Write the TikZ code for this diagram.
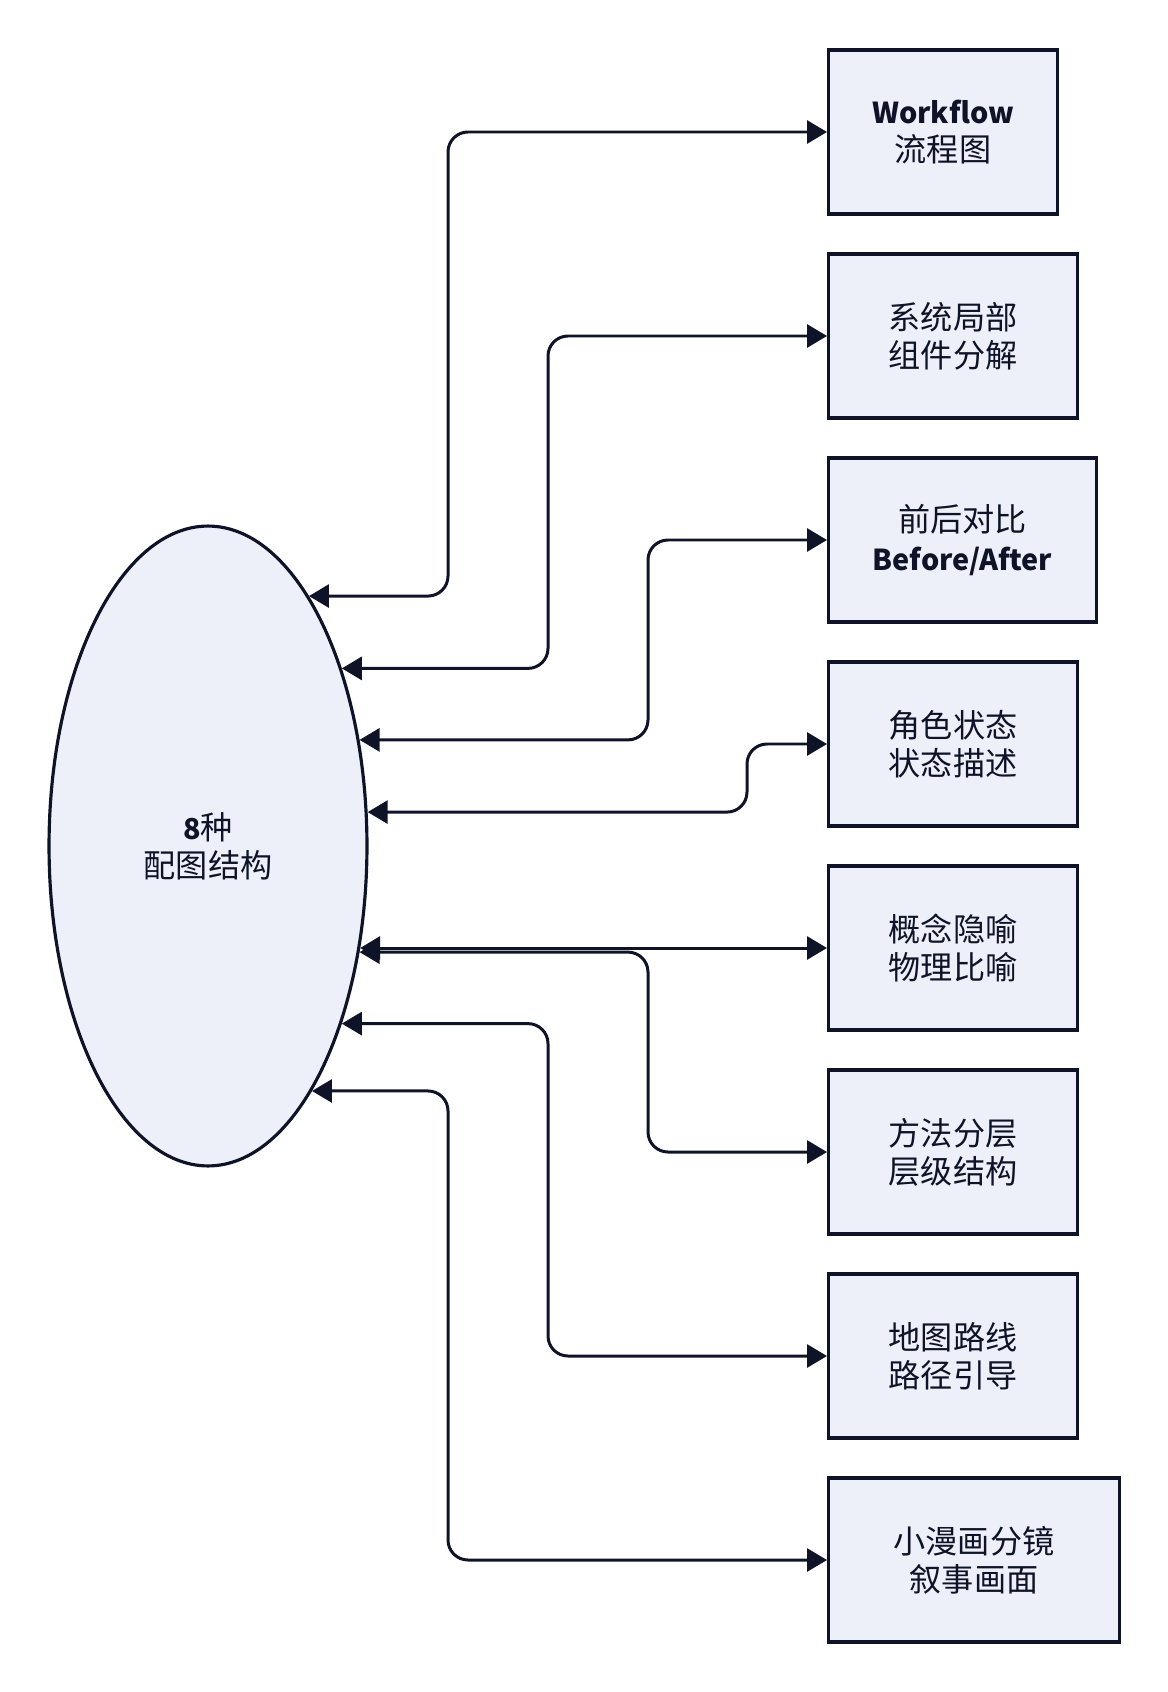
\documentclass[tikz,border=0pt]{standalone}
\usepackage{fontspec}
\setmainfont{Noto Sans CJK SC}
\usetikzlibrary{arrows.meta, shapes.geometric}
\definecolor{ink}{HTML}{0E1328}
\definecolor{pale}{HTML}{EDF0F8}
\newcommand{\boldtag}[1]{{\fontsize{16.4}{21.7}\selectfont\textbf{#1}}}
\tikzstyle{block} = [rectangle, draw=ink, fill=pale, line width=1.8pt, minimum height=3.28cm, align=center, anchor=west, text=ink]
\tikzstyle{hub} = [ellipse, draw=ink, fill=pale, line width=1.8pt, minimum width=6.36cm, minimum height=12.8cm, inner sep=0pt, align=center, text=ink]
\tikzstyle{link} = [draw=ink, line width=1.7pt, rounded corners=0.4cm, {Triangle[length=0.4cm,width=0.46cm]}-{Triangle[length=0.4cm,width=0.46cm]}]

\begin{document}
\begin{tikzpicture}[x=0.02cm, y=-0.02cm, font=\fontsize{18.3}{21.7}\selectfont]
    \useasboundingbox (0,0) rectangle (1168,1692);
    \node (hub) [hub] at (208,846) {\boldtag{8}种\\配图结构};

    \node (workflow) [block, minimum width=4.58cm] at (827,132) {\boldtag{Workflow}\\流程图};
    \node (parts) [block, minimum width=4.98cm] at (827,336) {系统局部\\组件分解};
    \node (compare) [block, minimum width=5.36cm] at (827,540) {前后对比\\\boldtag{Before/After}};
    \node (state) [block, minimum width=4.98cm] at (827,744) {角色状态\\状态描述};
    \node (metaphor) [block, minimum width=4.98cm] at (827,948) {概念隐喻\\物理比喻};
    \node (layers) [block, minimum width=4.98cm] at (827,1152) {方法分层\\层级结构};
    \node (route) [block, minimum width=4.98cm] at (827,1356) {地图路线\\路径引导};
    \node (comic) [block, minimum width=5.82cm] at (827,1560) {小漫画分镜\\叙事画面};

    \coordinate (col1) at (448,0);
    \coordinate (col2) at (548,0);
    \coordinate (col3) at (648,0);
    \coordinate (col4) at (747,0);

    \draw[link] (workflow.west) -- (workflow.west -| col1) |- (hub.68);
    \draw[link] (parts.west) -- (parts.west -| col2) |- (hub.53.4);
    \draw[link] (compare.west) -- (compare.west -| col3) |- (hub.35.5);
    \draw[link] (state.west) -- (state.west -| col4) |- (hub.12.8);
    \draw[link] (metaphor.west) -- (metaphor.west -| hub.-34.1);
    \draw[link] (layers.west) -- (layers.west -| col3) |- (hub.-35.3);
    \draw[link] (route.west) -- (route.west -| col2) |- (hub.-53.4);
    \draw[link] (comic.west) -- (comic.west -| col1) |- (hub.-67.9);
\end{tikzpicture}
\end{document}
